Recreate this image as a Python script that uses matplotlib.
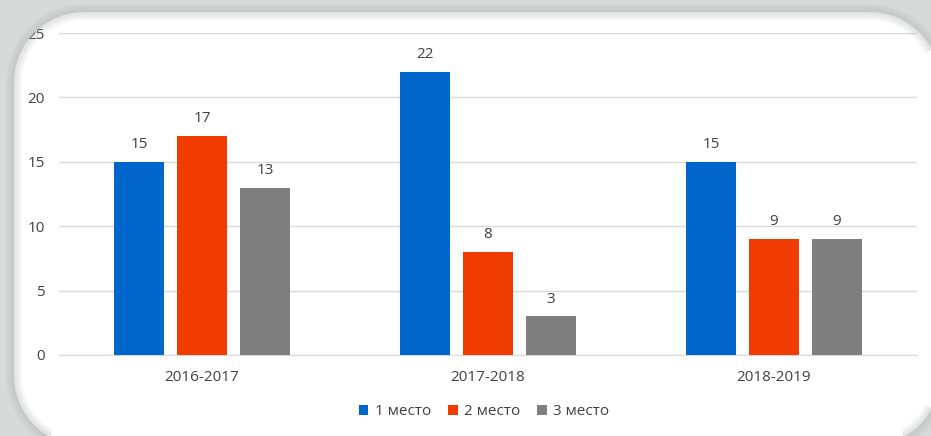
import numpy as np
import matplotlib.pyplot as plt
from matplotlib.patches import PathPatch
from matplotlib.path import Path

# data
years = ['2016-2017', '2017-2018', '2018-2019']
series = ['1 место', '2 место', '3 место']
place1 = [15, 22, 15]
place2 = [17, 8, 9]
place3 = [13, 3, 9]
colors = ['#0066cc', '#f03c00', '#7f7f7f']

plt.rcParams['font.family'] = ['Open Sans', 'DejaVu Sans']

W, H = 931, 436
fig = plt.figure(figsize=(W / 100, H / 100), dpi=100)
fig.patch.set_facecolor('white')
bg = '#d8dada'

# white panel with round corners, pixel coords (origin bottom-left)
x0, x1, y0, y1, r = 14, 940, -10, 424, 70
pts = []
for cx, cy, a in [(x1 - r, y1 - r, 0), (x0 + r, y1 - r, 90),
                  (x0 + r, y0 + r, 180), (x1 - r, y0 + r, 270)]:
    t = np.radians(np.linspace(a, a + 90, 24))
    pts.append(np.column_stack([cx + r * np.cos(t), cy + r * np.sin(t)]))
inner = np.vstack(pts + [pts[0][:1]])  # counter-clockwise

# gray frame = big rectangle with the panel cut out, drawn over the axes
outer = np.array([[-20, -20], [W + 20, -20], [W + 20, H + 20], [-20, H + 20], [-20, -20]])
hole = inner[::-1]
verts = np.vstack([outer, hole])
codes = ([Path.MOVETO] + [Path.LINETO] * 3 + [Path.CLOSEPOLY]
         + [Path.MOVETO] + [Path.LINETO] * (len(hole) - 2) + [Path.CLOSEPOLY])
fig.patches.append(PathPatch(Path(verts, codes), transform=None, facecolor=bg,
                             edgecolor='none', zorder=5))
edge = Path(inner)
for k in range(1, 9):
    fig.patches.append(PathPatch(edge, transform=None, facecolor='none',
                                 edgecolor='#a4a6a6', linewidth=k * 1.5,
                                 alpha=0.045, zorder=6))

ax = fig.add_axes([59 / W, 1 - 355 / H, (917 - 59) / W, (355 - 33) / H])
ax.set_facecolor('none')
ax.set_zorder(2)

x = np.arange(len(years))
bw = 0.175
step = 0.22
for i, vals in enumerate([place1, place2, place3]):
    pos = x + (i - 1) * step
    ax.bar(pos, vals, bw, color=colors[i], label=series[i], zorder=3)
    for p, v in zip(pos, vals):
        ax.annotate(str(v), (p, v), xytext=(0, 7), textcoords='offset points',
                    ha='center', va='bottom', fontsize=11, color='#404040')

ax.set_xlim(-0.5, 2.5)
ax.set_ylim(0, 25)
ax.set_yticks(range(0, 26, 5))
ax.set_xticks(x)
ax.set_xticklabels(years)
ax.grid(axis='y', color='#d9d9d9', linewidth=1, zorder=0)
ax.tick_params(length=0, labelsize=11, labelcolor='#404040')
ax.tick_params(axis='x', pad=11)
ax.tick_params(axis='y', pad=10)
for s in ['top', 'right', 'left']:
    ax.spines[s].set_visible(False)
ax.spines['bottom'].set_color('#d9d9d9')

ax.legend(loc='center', bbox_to_anchor=(0.495, -0.177), ncol=3,
          frameon=False, fontsize=11, handlelength=0.65, handleheight=0.65,
          handletextpad=0.4, columnspacing=1.1, labelcolor='#404040')

fig.savefig('out.png', dpi=100)
